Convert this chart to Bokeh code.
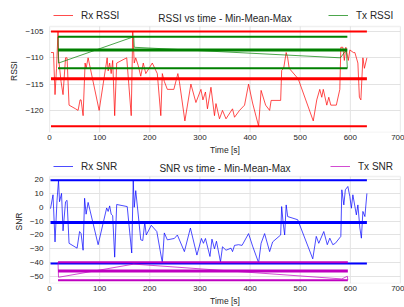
from bokeh.plotting import figure
from bokeh.models import Range1d, FixedTicker, Legend, LegendItem, Label, BoxAnnotation
from bokeh.layouts import column
from bokeh.embed import file_html
from bokeh.resources import INLINE

# ---------------- data ----------------
rx_rssi_t = [3, 8, 11, 14, 17, 18, 23, 27, 32, 35, 39, 52, 57, 61, 63, 67, 71, 73, 77, 99,
             115, 117, 120, 123, 126, 130, 134, 154, 163, 166, 169, 172, 177, 182, 187, 192,
             205, 215, 222, 225, 229, 235, 248, 256, 259, 270, 282, 292, 302, 306, 311, 315,
             322, 329, 332, 339, 345, 352, 365, 369, 379, 389, 397, 405, 417, 422, 431, 439,
             442, 461, 463, 467, 472, 475, 478, 496, 526, 533, 539, 543, 546, 553, 557, 561,
             572, 579, 581, 585, 588, 591, 596, 599, 606, 609, 615, 618, 621, 625, 628, 633]
rx_rssi_v = [-109, -109, -117, -112, -105, -110, -114.5, -117, -110, -110, -119, -119.7, -120,
             -118, -118, -121, -111, -112, -110, -120, -110, -112.5, -111, -113, -110.5, -121,
             -111, -110, -121, -105, -111, -110, -111.5, -113.5, -111, -113, -111, -113, -121,
             -113, -114.5, -116, -116, -113, -114.5, -122, -115, -118.5, -116, -118, -116.5,
             -119.7, -115.6, -121, -118.7, -121.6, -120, -121.6, -119.7, -121.3, -120, -119,
             -115, -118.6, -123, -116.2, -119, -120, -118.1, -118.1, -112.4, -112, -109, -110,
             -112, -114, -122, -118, -116, -117.5, -116, -119, -117.5, -119, -119, -116, -108,
             -108, -110.5, -108, -110.5, -108.5, -109, -109, -111, -117.5, -118, -110, -112, -110]

tx_rssi_t = [17, 18, 168, 169, 580, 592, 594]
tx_rssi_v = [-106, -111, -106, -108, -110, -108.5, -112]

rx_snr_t = [2, 7, 11, 15, 18, 20, 24, 27, 32, 35, 39, 55, 60, 63, 67, 70, 73, 77, 97, 114,
            117, 120, 123, 126, 130, 134, 155, 164, 167, 169, 172, 176, 182, 186, 190, 193,
            203, 214, 225, 229, 235, 249, 255, 269, 281, 294, 303, 307, 311, 320, 324, 329,
            333, 341, 345, 352, 362, 365, 369, 377, 384, 397, 405, 417, 422, 429, 439, 445,
            461, 463, 466, 469, 472, 475, 495, 525, 532, 537, 547, 554, 559, 565, 570, 581,
            583, 587, 590, 595, 599, 602, 605, 612, 615, 619, 622, 625, 629, 633]
rx_snr_v = [-1, 9, -25, 5, 19.5, 4, 10, -17, 4, 5, -26, -29.5, -17.5, -19, -31, 6.5, -5, 3.5,
            -27, -0.5, -3, 1, -5, -6, -36, 2, 0.5, -33, 19.5, 0, 12, -2, -23.5, -24, -11, -20,
            -13, -17.5, -40, -18.5, -23.5, -22.5, -20, -32, -15, -34.5, -22.5, -26, -22.5,
            -35.5, -23, -30, -24.5, -39.5, -28.5, -31, -29.5, -32, -27.5, -27, -27.5, -19, -28,
            -40, -26, -19, -32, -25, -20, 0.5, -11.5, -20, 1.7, -6.7, -9, -37.2, -21, -26,
            -17.5, -27, -22.3, -27, -26, -21, 12.6, 1.7, 12.6, 15, 7.7, -0.7, 9, -5.5, 1.7,
            -15, -22.3, -3, -6.7, 10]

tx_snr_t = [17, 18, 168, 583, 594, 595]
tx_snr_v = [-39.6, -50.5, -41, -51.7, -49.8, -52.6]

# min, mean, max
rx_rssi_stats = [-123, -114, -105]
tx_rssi_stats = [-112, -108.5, -106]
rx_snr_stats = [-40.5, -11, 19.5]
tx_snr_stats = [-52.6, -45.9, -39.6]

x_ticks = [0, 100, 200, 300, 400, 500, 600, 700]
rssi_ticks = [-120, -115, -110, -105]
snr_ticks = [-50, -40, -30, -20, -10, 0, 10, 20]

# ---------------- styling ----------------
FONT = "Liberation Sans"
TXT = "#262626"
GRID = "#e3e3e3"
RED, GREEN, BLUE, MAG = "#ff0000", "#008000", "#0000ff", "#bf00bf"
EXTRA = 17          # px of header room (legend + title) kept inside the frame
X0, X1 = 0, 700


def minus(v):
    return ("\u2212" + str(abs(v))) if v < 0 else str(v)


def make_fig(fh, bt, bb, yr, yticks, ylabel, title):
    ylo, yhi = yr
    ytop = yhi + EXTRA * (yhi - ylo) / fh
    p = figure(frame_width=351, frame_height=fh + EXTRA, min_border_left=49,
               min_border_right=4, min_border_top=bt, min_border_bottom=bb, title=None,
               x_range=Range1d(X0, X1), y_range=Range1d(ylo, ytop),
               output_backend="svg", toolbar_location=None)
    p.background_fill_color = "white"
    p.border_fill_color = "white"
    p.outline_line_color = None
    p.xgrid.visible = False
    p.ygrid.grid_line_color = GRID
    p.ygrid.grid_line_width = 1
    n = len(x_ticks)
    p.segment(x0=x_ticks, x1=x_ticks, y0=[ylo] * n, y1=[yhi] * n,
              line_color=GRID, line_width=1, level="underlay")
    p.add_layout(BoxAnnotation(left=X0, right=X1, bottom=ylo, top=yhi, fill_color=None,
                               line_color="#cccccc", line_width=1.5))
    p.xaxis.ticker = FixedTicker(ticks=x_ticks)
    p.yaxis.ticker = FixedTicker(ticks=yticks)
    p.yaxis.bounds = (ylo, yhi)
    p.yaxis.major_label_overrides = {v: minus(v) for v in yticks}
    p.xaxis.axis_label = "Time [s]"
    p.yaxis.axis_label = ylabel
    for ax in (p.xaxis, p.yaxis):
        ax.axis_line_color = None
        ax.major_tick_line_color = None
        ax.minor_tick_line_color = None
        ax.major_tick_out = 0
        ax.major_tick_in = 0
        ax.minor_tick_out = 0
        ax.minor_tick_in = 0
        ax.major_label_text_font = FONT
        ax.major_label_text_font_size = "8px"
        ax.major_label_text_color = TXT
        ax.axis_label_text_font = FONT
        ax.axis_label_text_font_size = "8.5px"
        ax.axis_label_text_font_style = "normal"
        ax.axis_label_text_color = TXT
    p.xaxis.major_label_standoff = 2
    p.xaxis.axis_label_standoff = 2
    p.yaxis.major_label_standoff = 6
    p.yaxis.axis_label_standoff = 3
    p.add_layout(Label(x=351 / 2, y=fh + 7.7, x_units="screen", y_units="screen",
                       text=title, text_align="center", text_baseline="middle",
                       text_font=FONT, text_font_size="10px", text_color=TXT))
    return p


def add_series(p, t, v, stats, color):
    r = p.line(t, v, line_color=color, line_width=1, line_alpha=0.7)
    lo, mean, hi = stats
    t0, t1 = t[0], t[-1]
    p.segment(x0=[t0, t0], x1=[t1, t1], y0=[lo, hi], y1=[lo, hi],
              line_color=color, line_width=2)
    p.segment(x0=[t0], x1=[t1], y0=[mean], y1=[mean], line_color=color, line_width=3)
    return r


def add_legend(p, r, label, x, fh, dy):
    leg = Legend(items=[LegendItem(label=label, renderers=[r])], location=(x, fh + dy),
                 orientation="horizontal", glyph_width=20, glyph_height=12, label_height=12,
                 label_standoff=8, padding=0, margin=0, border_line_alpha=0,
                 background_fill_alpha=0, label_text_font=FONT,
                 label_text_font_size="10px", label_text_color=TXT)
    p.add_layout(leg)


FH1, BT1, BB1 = 106, 9, 24
FH2, BT2, BB2 = 107, 2, 25

p1 = make_fig(FH1, BT1, BB1, (-124.2, -104.05), rssi_ticks, "RSSI", "RSSI vs time - Min-Mean-Max")
r1 = add_series(p1, rx_rssi_t, rx_rssi_v, rx_rssi_stats, RED)
r2 = add_series(p1, tx_rssi_t, tx_rssi_v, tx_rssi_stats, GREEN)
add_legend(p1, r1, "Rx RSSI", 4, FH1, 5)
add_legend(p1, r2, "Tx RSSI", 279, FH1, 5)

p2 = make_fig(FH2, BT2, BB2, (-55.0, 22.2), snr_ticks, "SNR", "SNR vs time - Min-Mean-Max")
r3 = add_series(p2, rx_snr_t, rx_snr_v, rx_snr_stats, BLUE)
r4 = add_series(p2, tx_snr_t, tx_snr_v, tx_snr_stats, MAG)
add_legend(p2, r3, "Rx SNR", 4, FH2, 4)
add_legend(p2, r4, "Tx SNR", 281, FH2, 4)

layout = column(p1, p2, spacing=0)
open("out.html", "w").write(file_html(layout, INLINE))
